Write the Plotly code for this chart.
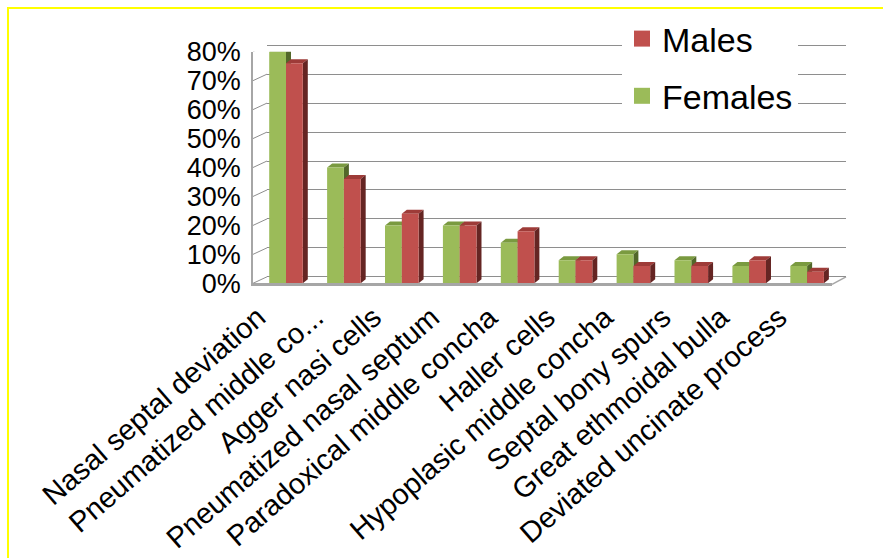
import plotly.graph_objects as go

# ---------------- data ----------------
categories = [
    "Nasal septal deviation",
    "Pneumatized middle co...",
    "Agger nasi cells",
    "Pneumatized nasal septum",
    "Paradoxical middle concha",
    "Haller cells",
    "Hypoplasic middle concha",
    "Septal bony spurs",
    "Great ethmoidal bulla",
    "Deviated uncinate process",
]
females = [80, 40, 20, 20, 14, 8, 10, 8, 6, 6]
males = [76, 36, 24, 20, 18, 8, 6, 6, 8, 4]
y_ticks = [0, 10, 20, 30, 40, 50, 60, 70, 80]
y_tick_labels = ["0%", "10%", "20%", "30%", "40%", "50%", "60%", "70%", "80%"]

# ---------------- layout constants ----------------
W, H = 883, 558
FX0, FX1 = 253, 832          # front plane, px
FY_TOP, FY_BOT = 51.7, 283.3
WALL_DX, WALL_DY = 14, 6.5   # depth of the back wall
BAR_DX, BAR_DY = 5, 4        # depth of each bar
XR = [-0.57, 9.43]
YR = [0, 80]
BW = 0.29
PAD = 3                      # px of padding on the back-wall axis
FONT = "Arial, Liberation Sans, sans-serif"

GREEN, GREEN_TOP, GREEN_SIDE = "#9BBB59", "#7A9A40", "#52672A"
RED, RED_TOP, RED_SIDE = "#C0504D", "#9E3B38", "#652523"
GRID = "#8E8E8E"


def xdom(a, b):
    return [a / W, b / W]


def ydom(top, bot):
    return [1 - bot / H, 1 - top / H]


ux = (XR[1] - XR[0]) / (FX1 - FX0)
uy = (YR[1] - YR[0]) / (FY_BOT - FY_TOP)
ddx, ddy = BAR_DX * ux, BAR_DY * uy

fig = go.Figure()

# invisible trace so that the back-wall subplot (gridlines) is drawn
fig.add_trace(go.Scatter(x=[XR[0]], y=[YR[0]], mode="markers",
                         marker=dict(opacity=0), xaxis="x", yaxis="y",
                         showlegend=False, hoverinfo="skip"))

series = [
    ("Females", females, -BW, GREEN, GREEN_TOP, GREEN_SIDE),
    ("Males", males, 0.0, RED, RED_TOP, RED_SIDE),
]

shapes = []
for name, vals, off, c, ctop, cside in series:
    fig.add_trace(go.Bar(
        x=list(range(len(categories))), y=vals, width=BW, offset=off,
        marker=dict(color=c, line=dict(width=0)),
        xaxis="x2", yaxis="y2", showlegend=False, name=name,
        hovertemplate="%{y}%<extra>" + name + "</extra>",
    ))
    for i, v in enumerate(vals):
        xl = i + off
        xr = xl + BW
        top = (f"M{xl},{v} L{xr},{v} L{xr + ddx},{v + ddy} "
               f"L{xl + ddx},{v + ddy} Z")
        side = (f"M{xr},0 L{xr + ddx},{ddy} L{xr + ddx},{v + ddy} "
                f"L{xr},{v} Z")
        for p, col in ((top, ctop), (side, cside)):
            shapes.append(dict(type="path", path=p, xref="x2", yref="y2",
                               fillcolor=col, line=dict(width=0),
                               layer="between"))

# legend entries (Males first, as in the reference)
for name, col, grp in (("Males", RED, "m"), ("Females", GREEN, "f")):
    fig.add_trace(go.Scatter(
        x=[None], y=[None], mode="markers", name=name, legendgroup=grp,
        marker=dict(symbol="square", size=16, color=col),
        xaxis="x2", yaxis="y2", showlegend=True,
    ))

# left wall diagonals at each gridline
for v in y_ticks:
    shapes.append(dict(type="line", xref="paper", yref="y2",
                       x0=FX0 / W, x1=(FX0 + WALL_DX) / W,
                       ysizemode="pixel", yanchor=v, y0=0, y1=WALL_DY,
                       line=dict(color=GRID, width=1), layer="above"))
# right floor diagonal
shapes.append(dict(type="line", xref="paper", yref="paper",
                   x0=FX1 / W, y0=1 - (FY_BOT + 1) / H,
                   x1=(FX1 + WALL_DX) / W, y1=1 - (FY_BOT - WALL_DY) / H,
                   line=dict(color="#A6A6A6", width=1.5), layer="below"))
# yellow frame
shapes.append(dict(type="rect", xref="paper", yref="paper",
                   x0=8 / W, x1=1.05, y0=-0.05, y1=1 - 8 / H,
                   line=dict(color="#FFFF00", width=2),
                   fillcolor="rgba(0,0,0,0)", layer="above"))

fig.update_layout(
    width=W, height=H,
    margin=dict(l=0, r=0, t=0, b=0),
    paper_bgcolor="white", plot_bgcolor="rgba(0,0,0,0)",
    barmode="overlay",
    font=dict(family=FONT, color="black"),
    shapes=shapes,
    # back wall (gridlines)
    xaxis=dict(domain=xdom(FX0 + WALL_DX, FX1 + WALL_DX), range=XR,
               anchor="y", showgrid=False, zeroline=False, showline=False,
               showticklabels=False, ticks="", fixedrange=True),
    yaxis=dict(domain=ydom(FY_TOP - WALL_DY - PAD, FY_BOT - WALL_DY + PAD),
               range=[YR[0] - PAD * uy, YR[1] + PAD * uy],
               anchor="x", tickvals=y_ticks, showticklabels=False,
               showgrid=True, gridcolor=GRID, gridwidth=1,
               zeroline=False, showline=False, ticks="", fixedrange=True),
    # front plane (bars, labels)
    xaxis2=dict(domain=xdom(FX0, FX1), range=XR, anchor="y2",
                tickvals=list(range(len(categories))), ticktext=categories,
                tickangle=-41, tickfont=dict(size=29, family=FONT),
                ticklabelshift=-28, ticklabelstandoff=3,
                showgrid=False, zeroline=False, showline=True,
                linecolor="#A6A6A6", linewidth=2.5, ticks="",
                automargin=False, fixedrange=True),
    yaxis2=dict(domain=ydom(FY_TOP, FY_BOT), range=YR, anchor="x2",
                tickvals=y_ticks, ticktext=y_tick_labels,
                tickfont=dict(size=27, family=FONT),
                showgrid=False, zeroline=False, showline=True,
                linecolor="#A6A6A6", linewidth=1.5, ticks="",
                ticklabelstandoff=5, automargin=False, fixedrange=True),
    showlegend=True,
    legend=dict(x=622 / W, xanchor="left", y=1 - 10 / H, yanchor="top",
                bgcolor="white", borderwidth=0,
                font=dict(size=34, family=FONT, color="black"),
                traceorder="grouped", tracegroupgap=10,
                itemclick=False, itemdoubleclick=False),
)

fig.write_html("out.html")
